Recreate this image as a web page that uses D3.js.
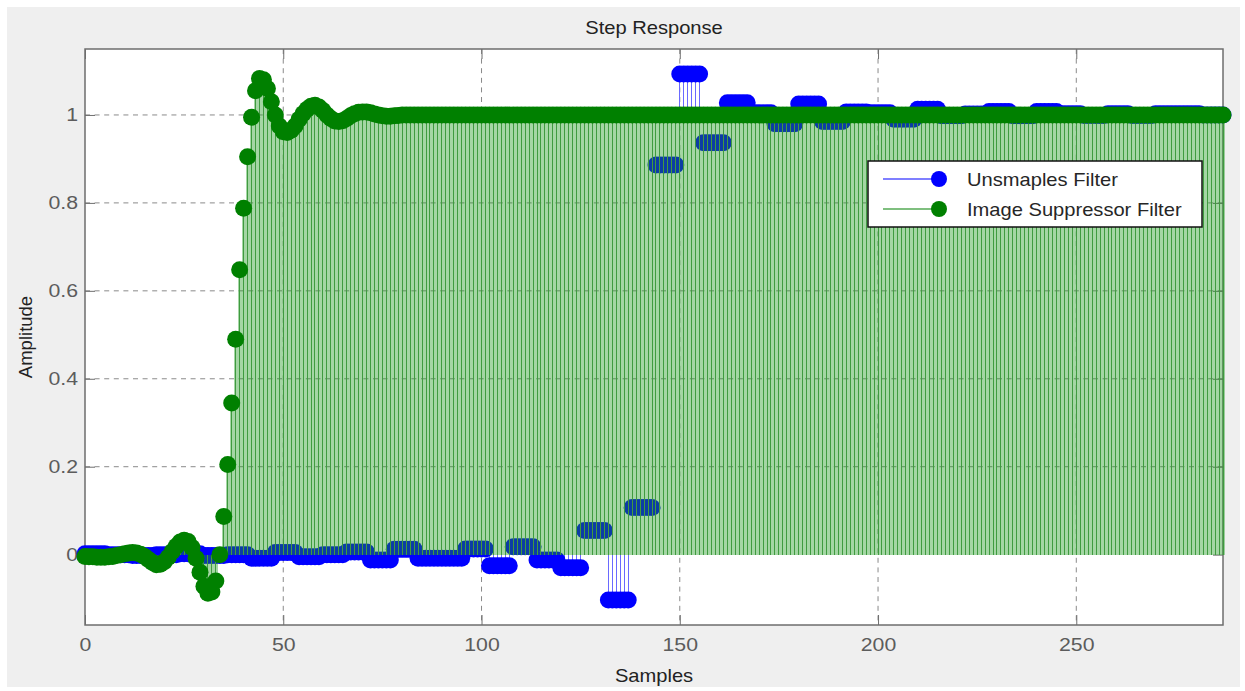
<!DOCTYPE html>
<html>
<meta charset="utf-8" />
<script src="https://cdn.jsdelivr.net/npm/d3@7"></script>
<style>
  html, body { margin: 0; padding: 0; background: #fff; }
  svg text { font-family: "Liberation Sans", Arial, sans-serif; }
  .axis .tick line { stroke: #6e6e6e; stroke-width: 1; }
  .axis .tick text { fill: #5c5c5c; font-size: 18.5px; }
  .grid line { stroke: #8a8a8a; stroke-width: 1; stroke-dasharray: 5, 4.6; }
</style>
<body>
<div id="chart"></div>
<script>
// step response of the upsampled filter (zero-order hold, read per sample)
var unsampled = [
  0.002, 0.002, 0.002, 0.002, 0.002, 0.002,
  0.000, 0.000, 0.000, 0.000, 0.000, 0.000,
  -0.002, -0.002, -0.002, -0.002, -0.002, -0.002,
  0.000, 0.000, 0.000, 0.000, 0.000, 0.000,
  0.002, 0.002, 0.002, 0.002, 0.002, 0.002,
  -0.002, -0.002, -0.002, -0.002, -0.002, -0.002,
  0.000, 0.000, 0.000, 0.000, 0.000, 0.000,
  -0.008, -0.008, -0.008, -0.008, -0.008, -0.008,
  0.005, 0.005, 0.005, 0.005, 0.005, 0.005,
  -0.005, -0.005, -0.005, -0.005, -0.005, -0.005,
  0.000, 0.000, 0.000, 0.000, 0.000, 0.000,
  0.006, 0.006, 0.006, 0.006, 0.006, 0.006,
  -0.012, -0.012, -0.012, -0.012, -0.012, -0.012,
  0.012, 0.012, 0.012, 0.012, 0.012, 0.012,
  -0.008, -0.008, -0.008, -0.008, -0.008, -0.008,
  -0.008, -0.008, -0.008, -0.008, -0.008, -0.008,
  0.013, 0.013, 0.013, 0.013, 0.013, 0.013,
  -0.025, -0.025, -0.025, -0.025, -0.025, -0.025,
  0.018, 0.018, 0.018, 0.018, 0.018, 0.018,
  -0.012, -0.012, -0.012, -0.012, -0.012, -0.012,
  -0.030, -0.030, -0.030, -0.030, -0.030, -0.030,
  0.055, 0.055, 0.055, 0.055, 0.055, 0.055,
  -0.103, -0.103, -0.103, -0.103, -0.103, -0.103,
  0.107, 0.107, 0.107, 0.107, 0.107, 0.107,
  0.886, 0.886, 0.886, 0.886, 0.886, 0.886,
  1.093, 1.093, 1.093, 1.093, 1.093, 1.093,
  0.937, 0.937, 0.937, 0.937, 0.937, 0.937,
  1.028, 1.028, 1.028, 1.028, 1.028, 1.028,
  1.005, 1.005, 1.005, 1.005, 1.005, 1.005,
  0.980, 0.980, 0.980, 0.980, 0.980, 0.980,
  1.025, 1.025, 1.025, 1.025, 1.025, 1.025,
  0.985, 0.985, 0.985, 0.985, 0.985, 0.985,
  1.007, 1.007, 1.007, 1.007, 1.007, 1.007,
  1.005, 1.005, 1.005, 1.005, 1.005, 1.005,
  0.990, 0.990, 0.990, 0.990, 0.990, 0.990,
  1.013, 1.013, 1.013, 1.013, 1.013, 1.013,
  0.998, 0.998, 0.998, 0.998, 0.998, 0.998,
  1.002, 1.002, 1.002, 1.002, 1.002, 1.002,
  1.008, 1.008, 1.008, 1.008, 1.008, 1.008,
  0.998, 0.998, 0.998, 0.998, 0.998, 0.998,
  1.008, 1.008, 1.008, 1.008, 1.008, 1.008,
  1.003, 1.003, 1.003, 1.003, 1.003, 1.003,
  0.999, 0.999, 0.999, 0.999, 0.999, 0.999,
  1.003, 1.003, 1.003, 1.003, 1.003, 1.003,
  0.999, 0.999, 0.999, 0.999, 0.999, 0.999,
  1.003, 1.003, 1.003, 1.003, 1.003, 1.003,
  1.003, 1.003, 1.003, 1.003, 1.003, 1.003,
  1.000, 1.000, 1.000, 1.000, 1.000, 1.000
];

// step response of the image suppressor filter
var suppressor = [
  -0.004, -0.005, -0.005, -0.006, -0.006, -0.006, -0.005, -0.004, -0.002, 0.000, 0.002, 0.004,
  0.005, 0.004, 0.001, -0.004, -0.011, -0.018, -0.023, -0.022, -0.016, -0.006, 0.007, 0.019,
  0.029, 0.033, 0.030, 0.016, -0.008, -0.040, -0.072, -0.088, -0.085, -0.060, 0.000, 0.087,
  0.205, 0.345, 0.490, 0.648, 0.788, 0.905, 0.995, 1.055, 1.083, 1.080, 1.060, 1.030,
  1.000, 0.975, 0.962, 0.960, 0.965, 0.975, 0.990, 1.003, 1.013, 1.020, 1.022, 1.018,
  1.010, 1.000, 0.992, 0.986, 0.985, 0.987, 0.992, 0.998, 1.003, 1.006, 1.007, 1.007,
  1.005, 1.002, 1.000, 0.998, 0.997, 0.997, 0.998, 0.999, 1, 1, 1, 1,
  1, 1, 1, 1, 1, 1, 1, 1, 1, 1, 1, 1,
  1, 1, 1, 1, 1, 1, 1, 1, 1, 1, 1, 1,
  1, 1, 1, 1, 1, 1, 1, 1, 1, 1, 1, 1,
  1, 1, 1, 1, 1, 1, 1, 1, 1, 1, 1, 1,
  1, 1, 1, 1, 1, 1, 1, 1, 1, 1, 1, 1,
  1, 1, 1, 1, 1, 1, 1, 1, 1, 1, 1, 1,
  1, 1, 1, 1, 1, 1, 1, 1, 1, 1, 1, 1,
  1, 1, 1, 1, 1, 1, 1, 1, 1, 1, 1, 1,
  1, 1, 1, 1, 1, 1, 1, 1, 1, 1, 1, 1,
  1, 1, 1, 1, 1, 1, 1, 1, 1, 1, 1, 1,
  1, 1, 1, 1, 1, 1, 1, 1, 1, 1, 1, 1,
  1, 1, 1, 1, 1, 1, 1, 1, 1, 1, 1, 1,
  1, 1, 1, 1, 1, 1, 1, 1, 1, 1, 1, 1,
  1, 1, 1, 1, 1, 1, 1, 1, 1, 1, 1, 1,
  1, 1, 1, 1, 1, 1, 1, 1, 1, 1, 1, 1,
  1, 1, 1, 1, 1, 1, 1, 1, 1, 1, 1, 1,
  1, 1, 1, 1, 1, 1, 1, 1, 1, 1, 1, 1
];

var xTicks = [0, 50, 100, 150, 200, 250];
var yTicks = [0, 0.2, 0.4, 0.6, 0.8, 1];
var yTickLabels = ['0', '0.2', '0.4', '0.6', '0.8', '1'];
var seriesNames = ['Unsmaples Filter', 'Image Suppressor Filter'];
var seriesColors = ['#0000ff', '#008000'];

var W = 1245, H = 691;
var plotL = 85, plotR = 1223, plotT = 49, plotB = 625;
var r = 8.5;
var sx = 1.15; // text in the picture is a bit wide

var svg = d3.select('#chart').append('svg').attr('width', W).attr('height', H);

svg.append('rect').attr('x', 7).attr('y', 7).attr('width', 1233).attr('height', 680).attr('fill', '#efefef');
svg.append('rect').attr('x', plotL).attr('y', plotT).attr('width', plotR - plotL).attr('height', plotB - plotT).attr('fill', '#fff');

var x = d3.scaleLinear().domain([0, 287]).range([plotL, plotR]);
var y = d3.scaleLinear().domain([-0.16, 1.15]).range([plotB, plotT]);

function wideText(g, tx, ty, txt, size, anchor, fill) {
  return g.append('text')
    .attr('transform', 'translate(' + tx + ',' + ty + ') scale(' + sx + ',1)')
    .attr('text-anchor', anchor)
    .style('font-size', size + 'px')
    .attr('fill', fill)
    .text(txt);
}

// grid
var grid = svg.append('g').attr('class', 'grid');
grid.selectAll('line.gx').data(xTicks.slice(1)).enter().append('line')
  .attr('x1', d => x(d)).attr('x2', d => x(d)).attr('y1', plotT).attr('y2', plotB);
grid.selectAll('line.gy').data(yTicks.slice(1)).enter().append('line')
  .attr('x1', plotL).attr('x2', plotR).attr('y1', d => y(d)).attr('y2', d => y(d));

// axes, ticks pointing inward
var axB = svg.append('g').attr('class', 'axis').attr('transform', 'translate(0,' + plotB + ')')
  .call(d3.axisBottom(x).tickValues(xTicks).tickSizeInner(-10).tickSizeOuter(0).tickPadding(13));
var axT = svg.append('g').attr('class', 'axis').attr('transform', 'translate(0,' + plotT + ')')
  .call(d3.axisTop(x).tickValues(xTicks).tickSizeInner(-10).tickSizeOuter(0).tickFormat(''));
var axL = svg.append('g').attr('class', 'axis').attr('transform', 'translate(' + plotL + ',0)')
  .call(d3.axisLeft(y).tickValues(yTicks).tickSizeInner(-10).tickSizeOuter(0).tickPadding(6)
    .tickFormat((d, i) => yTickLabels[i]));
var axR = svg.append('g').attr('class', 'axis').attr('transform', 'translate(' + plotR + ',0)')
  .call(d3.axisRight(y).tickValues(yTicks).tickSizeInner(-10).tickSizeOuter(0).tickFormat(''));
[axB, axT, axL, axR].forEach(a => a.select('.domain').remove());
svg.selectAll('.axis text').attr('transform', 'scale(' + sx + ',1)').attr('font-family', null);

svg.append('rect').attr('x', plotL).attr('y', plotT).attr('width', plotR - plotL).attr('height', plotB - plotT)
  .attr('fill', 'none').attr('stroke', '#6e6e6e').attr('stroke-width', 1.5);

// blue stems and markers
var data = svg.append('g');
data.append('g').attr('shape-rendering', 'crispEdges').selectAll('line').data(unsampled).enter().append('line')
  .attr('x1', (d, i) => x(i)).attr('x2', (d, i) => x(i))
  .attr('y1', y(0)).attr('y2', d => y(d))
  .attr('stroke', '#6a6aff').attr('stroke-width', 1);
data.append('g').selectAll('circle').data(unsampled).enter().append('circle')
  .attr('cx', (d, i) => x(i)).attr('cy', d => y(d)).attr('r', r)
  .attr('fill', seriesColors[0]);

// green stems: soft wide stroke, then the thin line itself
var step = x(1) - x(0);
data.append('g').attr('opacity', 0.4).attr('shape-rendering', 'crispEdges')
  .selectAll('line').data(suppressor).enter().append('line')
  .attr('x1', (d, i) => x(i)).attr('x2', (d, i) => x(i))
  .attr('y1', y(0)).attr('y2', d => y(d))
  .attr('stroke', '#1f9a1f').attr('stroke-width', step);
data.append('g').attr('shape-rendering', 'crispEdges')
  .selectAll('line').data(suppressor).enter().append('line')
  .attr('x1', (d, i) => x(i)).attr('x2', (d, i) => x(i))
  .attr('y1', y(0)).attr('y2', d => y(d))
  .attr('stroke', '#3f9b3f').attr('stroke-width', 1);
data.append('g').selectAll('circle').data(suppressor).enter().append('circle')
  .attr('cx', (d, i) => x(i)).attr('cy', d => y(d)).attr('r', r)
  .attr('fill', seriesColors[1]);

// legend
var lg = svg.append('g');
lg.append('rect').attr('x', 868).attr('y', 161).attr('width', 334).attr('height', 66)
  .attr('fill', '#fff').attr('stroke', '#111').attr('stroke-width', 1.5);
seriesNames.forEach(function (name, i) {
  var ly = 179 + i * 30;
  lg.append('line').attr('x1', 883).attr('x2', 939).attr('y1', ly).attr('y2', ly)
    .attr('stroke', seriesColors[i]).attr('stroke-width', 1.2);
  lg.append('circle').attr('cx', 939).attr('cy', ly).attr('r', 8).attr('fill', seriesColors[i]);
  wideText(lg, 967, ly + 6.5, name, 17.5, 'start', '#262626');
});

// titles
wideText(svg, (plotL + plotR) / 2, 34, 'Step Response', 17.5, 'middle', '#222');
wideText(svg, (plotL + plotR) / 2, 682, 'Samples', 17.5, 'middle', '#222');
svg.append('text')
  .attr('transform', 'translate(32,' + (plotT + plotB) / 2 + ') rotate(-90)')
  .attr('text-anchor', 'middle')
  .style('font-size', '18.5px')
  .attr('fill', '#222')
  .text('Amplitude');
</script>
</body>
</html>
